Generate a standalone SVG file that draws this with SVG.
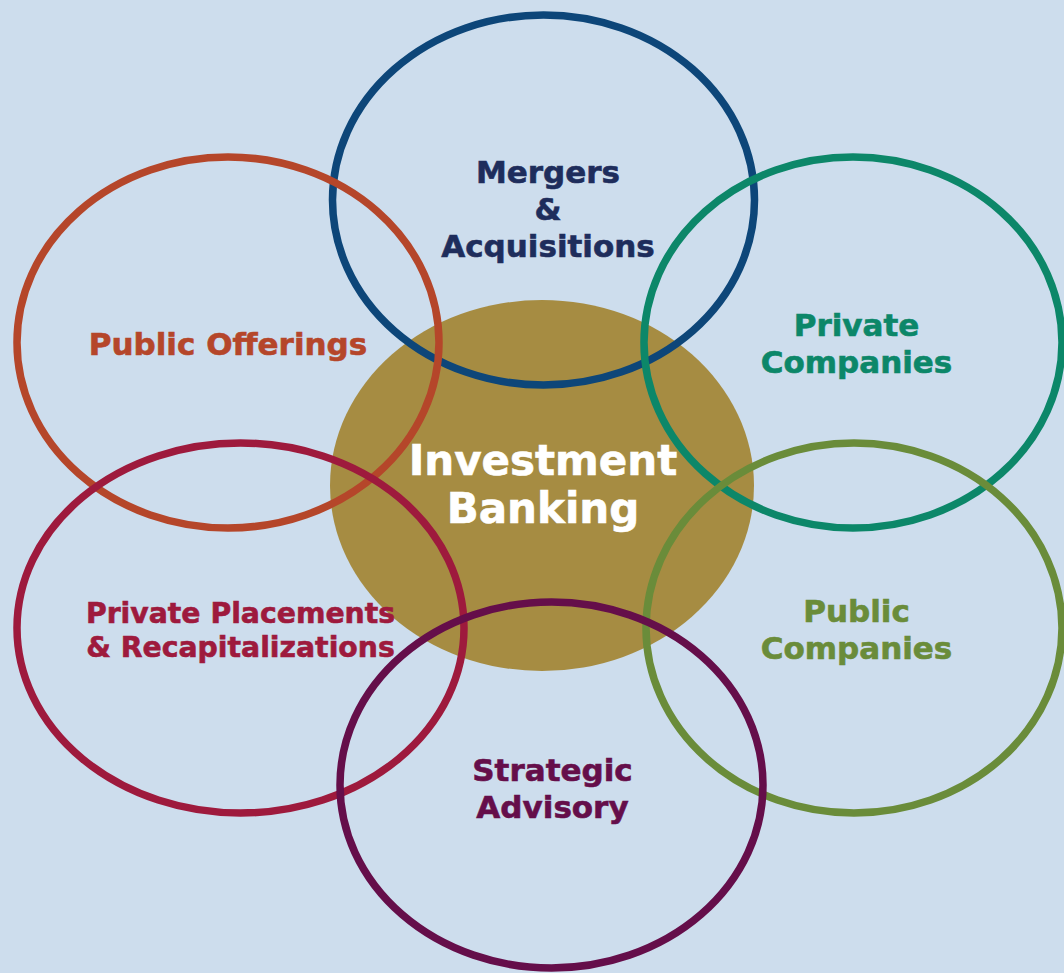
<svg xmlns="http://www.w3.org/2000/svg" width="1064" height="973" viewBox="0 0 1064 973">
<style>
.ring{fill:none;stroke-width:7.5}
.lbl{font-family:"DejaVu Sans","Verdana",sans-serif;font-weight:bold;font-size:31px;text-anchor:middle;stroke-width:0.6}
.ctr{font-family:"DejaVu Sans","Verdana",sans-serif;font-weight:bold;font-size:42px;text-anchor:middle;fill:#FFFFFF;stroke:#FFFFFF;stroke-width:0.6}
</style>
<rect x="0" y="0" width="1064" height="973" fill="#CDDDED"/>
<g id="investment-banking">
<ellipse cx="542" cy="485.5" rx="212" ry="185.5" fill="#A68C42"/>
</g>
<g id="mergers-acquisitions">
<ellipse class="ring" cx="543.5" cy="200" rx="211" ry="185" stroke="#0D4679"/>
<text class="lbl" fill="#1E2D5C" stroke="#1E2D5C" x="548" y="183">Mergers</text>
<text class="lbl" fill="#1E2D5C" stroke="#1E2D5C" x="548" y="220">&amp;</text>
<text class="lbl" fill="#1E2D5C" stroke="#1E2D5C" x="548" y="257">Acquisitions</text>
</g>
<g id="public-offerings">
<ellipse class="ring" cx="228" cy="342.5" rx="211" ry="185.5" stroke="#B5462A"/>
<text class="lbl" fill="#B5462A" stroke="#B5462A" x="228" y="355">Public Offerings</text>
</g>
<g id="private-companies">
<ellipse class="ring" cx="853" cy="342.5" rx="209" ry="185.5" stroke="#0C8769"/>
<text class="lbl" fill="#0C8769" stroke="#0C8769" x="856.5" y="336">Private</text>
<text class="lbl" fill="#0C8769" stroke="#0C8769" x="856.5" y="373">Companies</text>
</g>
<g id="public-companies">
<ellipse class="ring" cx="854" cy="628" rx="208" ry="185" stroke="#6A8C3A"/>
<text class="lbl" fill="#6A8C3A" stroke="#6A8C3A" x="856.5" y="622">Public</text>
<text class="lbl" fill="#6A8C3A" stroke="#6A8C3A" x="856.5" y="659">Companies</text>
</g>
<g id="private-placements">
<ellipse class="ring" cx="240.5" cy="628" rx="223.5" ry="185" stroke="#9E1A3D"/>
<text class="lbl" fill="#9E1A3D" stroke="#9E1A3D" x="240.5" y="623" style="font-size:28.3px">Private Placements</text>
<text class="lbl" fill="#9E1A3D" stroke="#9E1A3D" x="240.5" y="657" style="font-size:28.3px">&amp; Recapitalizations</text>
</g>
<g id="strategic-advisory">
<ellipse class="ring" cx="551.5" cy="785" rx="211.5" ry="183" stroke="#650E4A"/>
<text class="lbl" fill="#650E4A" stroke="#650E4A" x="552.5" y="781">Strategic</text>
<text class="lbl" fill="#650E4A" stroke="#650E4A" x="552.5" y="818">Advisory</text>
</g>
<g id="center-label">
<text class="ctr" x="543" y="475">Investment</text>
<text class="ctr" x="543" y="523">Banking</text>
</g>
<g id="connectors"/>
</svg>
